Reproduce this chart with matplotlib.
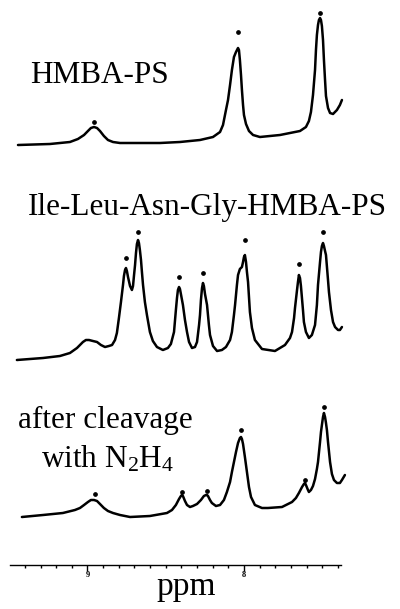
import numpy as np
import matplotlib
matplotlib.use("Agg")
import matplotlib.pyplot as plt

plt.rcParams['font.family'] = ['Liberation Serif', 'DejaVu Serif']
plt.rcParams['mathtext.default'] = 'regular'

# ----- traced spectra: (chemical shift in ppm, intensity above baseline) -----
hmba = [(9.444, 0), (9.240, 1), (9.112, 3), (9.061, 6), (9.022, 10), (8.997, 14),
        (8.978, 17), (8.958, 18), (8.939, 17), (8.920, 14), (8.895, 9), (8.869, 5),
        (8.837, 3), (8.792, 2), (8.684, 2), (8.537, 2), (8.409, 3), (8.281, 5),
        (8.198, 8), (8.153, 13), (8.134, 20), (8.115, 35), (8.102, 45), (8.089, 60),
        (8.077, 75), (8.064, 88), (8.051, 93), (8.038, 97), (8.032, 95), (8.026, 85),
        (8.019, 70), (8.013, 55), (8.006, 40), (8.000, 30), (7.987, 21), (7.968, 14),
        (7.942, 10), (7.898, 8), (7.770, 10), (7.642, 14), (7.604, 18), (7.585, 24),
        (7.572, 33), (7.559, 50), (7.546, 75), (7.540, 95), (7.534, 110), (7.527, 120),
        (7.521, 125), (7.514, 127), (7.508, 125), (7.502, 119), (7.495, 105),
        (7.489, 85), (7.482, 65), (7.476, 49), (7.463, 37), (7.450, 32), (7.431, 31),
        (7.406, 35), (7.387, 40), (7.374, 45)]
hmba_peaks = [8.958, 8.038, 7.514]
hmba_marks = [23, 113, 132]

peptide = [(9.451, 0), (9.284, 2), (9.176, 4), (9.112, 7), (9.067, 12), (9.029, 18),
           (9.010, 20), (8.990, 20), (8.965, 19), (8.939, 18), (8.914, 15), (8.888, 13),
           (8.863, 14), (8.843, 15), (8.824, 20), (8.812, 27), (8.799, 42), (8.786, 58),
           (8.773, 75), (8.767, 84), (8.760, 90), (8.754, 92), (8.748, 89), (8.741, 83),
           (8.728, 74), (8.716, 70), (8.709, 74), (8.703, 84), (8.696, 95), (8.690, 107),
           (8.684, 116), (8.677, 120), (8.671, 117), (8.665, 110), (8.658, 100),
           (8.652, 88), (8.645, 75), (8.633, 58), (8.620, 45), (8.601, 28), (8.582, 19),
           (8.556, 13), (8.518, 10), (8.486, 12), (8.467, 16), (8.447, 28), (8.435, 50),
           (8.428, 62), (8.422, 70), (8.415, 73), (8.409, 71), (8.403, 66), (8.390, 55),
           (8.377, 40), (8.364, 28), (8.351, 18), (8.332, 12), (8.313, 13), (8.300, 18),
           (8.287, 35), (8.281, 45), (8.275, 60), (8.268, 72), (8.262, 77), (8.256, 74),
           (8.249, 66), (8.236, 55), (8.224, 35), (8.217, 25), (8.198, 14), (8.172, 9),
           (8.141, 10), (8.115, 13), (8.089, 20), (8.077, 28), (8.064, 45), (8.057, 55),
           (8.045, 75), (8.038, 85), (8.026, 91), (8.013, 93), (8.006, 98), (8.000, 103),
           (7.994, 105), (7.987, 98), (7.981, 88), (7.974, 78), (7.962, 48), (7.949, 32),
           (7.930, 20), (7.885, 11), (7.802, 9), (7.738, 15), (7.706, 22), (7.693, 28),
           (7.680, 42), (7.674, 52), (7.661, 70), (7.655, 78), (7.649, 85), (7.642, 82),
           (7.636, 74), (7.623, 50), (7.617, 38), (7.604, 28), (7.585, 22), (7.566, 25),
           (7.546, 35), (7.534, 55), (7.527, 75), (7.514, 98), (7.508, 108), (7.502, 114),
           (7.495, 117), (7.489, 114), (7.482, 109), (7.476, 105), (7.463, 80),
           (7.457, 68), (7.444, 50), (7.431, 38), (7.418, 33), (7.399, 30), (7.387, 30),
           (7.374, 33)]
peptide_peaks = [8.754, 8.677, 8.415, 8.262, 7.994, 7.649, 7.495]
peptide_marks = [102, 128, 83, 87, 120, 96, 128]

cleaved = [(9.419, 0), (9.284, 2), (9.157, 4), (9.080, 7), (9.048, 9), (9.022, 12),
           (8.997, 15), (8.978, 17), (8.958, 17), (8.939, 16), (8.920, 13), (8.895, 9),
           (8.869, 6), (8.837, 4), (8.792, 2), (8.728, 0), (8.601, 1), (8.492, 4),
           (8.460, 7), (8.435, 12), (8.415, 18), (8.403, 21), (8.396, 22), (8.390, 21),
           (8.377, 16), (8.364, 12), (8.345, 10), (8.326, 11), (8.300, 13), (8.275, 17),
           (8.256, 21), (8.243, 22), (8.236, 22), (8.230, 21), (8.217, 17), (8.205, 14),
           (8.179, 11), (8.153, 12), (8.128, 17), (8.109, 25), (8.089, 35), (8.077, 45),
           (8.064, 55), (8.051, 65), (8.038, 74), (8.026, 79), (8.019, 80), (8.013, 78),
           (8.006, 73), (7.994, 60), (7.981, 45), (7.968, 30), (7.955, 20), (7.930, 12),
           (7.885, 9), (7.847, 9), (7.757, 10), (7.693, 15), (7.668, 19), (7.649, 24),
           (7.629, 30), (7.617, 33), (7.610, 34), (7.604, 32), (7.591, 27), (7.585, 25),
           (7.572, 27), (7.559, 31), (7.546, 38), (7.534, 48), (7.527, 55), (7.514, 75),
           (7.508, 85), (7.502, 92), (7.495, 100), (7.489, 104), (7.482, 100),
           (7.476, 94), (7.470, 87), (7.463, 75), (7.450, 55), (7.438, 43), (7.425, 37),
           (7.406, 34), (7.387, 34), (7.374, 37), (7.355, 42)]
cleaved_peaks = [8.953, 8.396, 8.236, 8.019, 7.610, 7.489]
cleaved_marks = [23, 25, 26, 87, 37, 110]

labels = ["HMBA-PS", "Ile-Leu-Asn-Gly-HMBA-PS", "after cleavage", "with N$_2$H$_4$"]
offsets = [420, 205, 48]

fig = plt.figure(figsize=(4.0, 6.09), dpi=100)
ax = fig.add_axes([10 / 400, 44 / 609, 331 / 400, 565 / 609])

traces = [(hmba, hmba_peaks, hmba_marks),
          (peptide, peptide_peaks, peptide_marks),
          (cleaved, cleaved_peaks, cleaved_marks)]
for (pts, pk, mk), off in zip(traces, offsets):
    arr = np.array(pts)
    ax.plot(arr[:, 0], arr[:, 1] + off, color='black', lw=1.8,
            solid_joinstyle='round', solid_capstyle='round', clip_on=False)
    ax.plot(pk, np.array(mk) + off, 'o', color='black', ms=2.4, clip_on=False)

ax.set_xlim(9.495, 7.38)
ax.set_ylim(0, 565)
for side in ['left', 'right', 'top']:
    ax.spines[side].set_visible(False)
ax.spines['bottom'].set_linewidth(1.0)
ax.set_yticks([])
ax.set_xticks([9, 8])
ax.set_xticklabels(["9", "8"], fontsize=6, fontweight='bold')
ax.set_xticks(np.arange(7.4, 9.5, 0.1), minor=True)
ax.tick_params(axis='x', which='major', direction='out', length=4, width=1.0, pad=0.5)
ax.tick_params(axis='x', which='minor', direction='out', length=2.5, width=1.0)

# ----- labels -----
fs = 22.5
fig.text(30 / 400, 1 - 83 / 609, labels[0], fontsize=fs, va='baseline', ha='left')
fig.text(28 / 400, 1 - 215 / 609, labels[1], fontsize=fs, va='baseline', ha='left')
fig.text(105 / 400, 1 - 428 / 609, labels[2], fontsize=fs, va='baseline', ha='center')
fig.text(108 / 400, 1 - 467 / 609, labels[3], fontsize=fs, va='baseline', ha='center')
fig.text(186 / 400, 1 - 595 / 609, "ppm", fontsize=24, va='baseline', ha='center')

fig.savefig("out.png", dpi=100)
